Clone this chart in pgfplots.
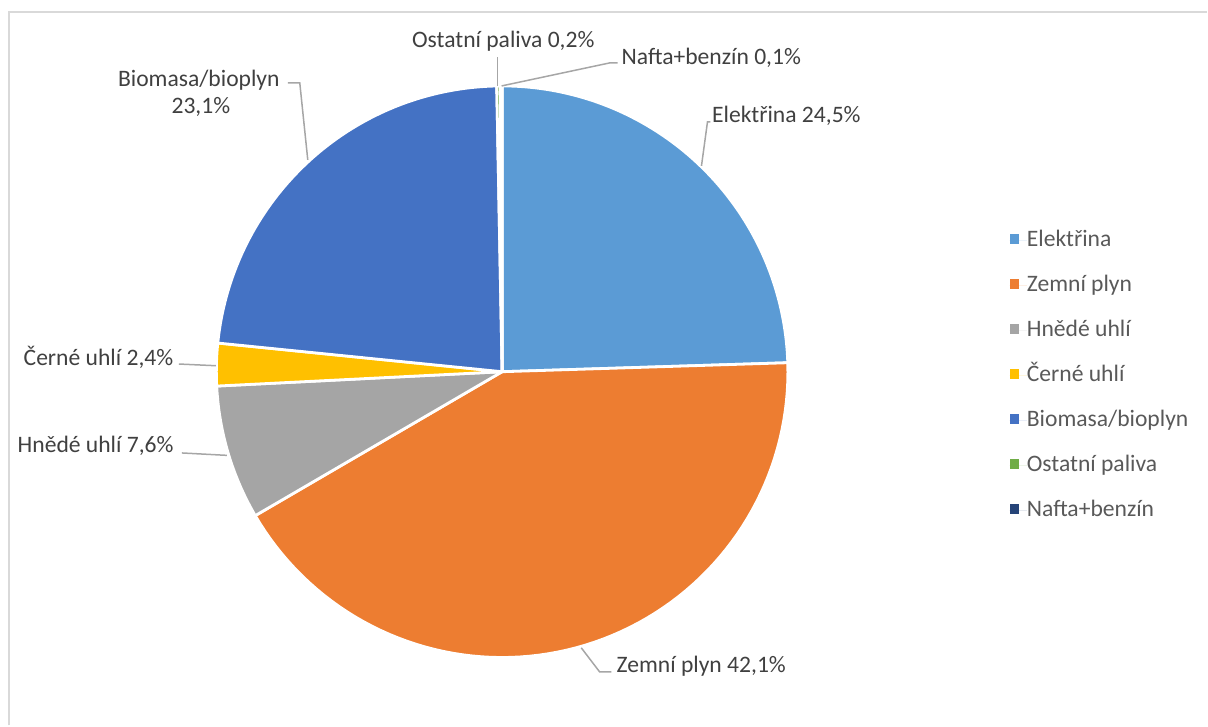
\documentclass[border=0pt]{standalone}
\usepackage{pgfplots}
\usepackage{pgfplotstable}
\pgfplotsset{compat=1.18}
\usepackage{fontspec}
\setmainfont{Carlito}
\definecolor{c0}{HTML}{5B9BD5}
\definecolor{c1}{HTML}{ED7D31}
\definecolor{c2}{HTML}{A5A5A5}
\definecolor{c3}{HTML}{FFC000}
\definecolor{c4}{HTML}{4472C4}
\definecolor{c5}{HTML}{70AD47}
\definecolor{c6}{HTML}{264478}
\definecolor{lbl}{HTML}{404040}
\definecolor{leg}{HTML}{595959}
\definecolor{lead}{HTML}{A6A6A6}
\definecolor{frame}{HTML}{D9D9D9}

% share of each fuel, % (clockwise from the top)
\pgfplotstableread{
name value
Elektrina 24.5
ZemniPlyn 42.1
HnedeUhli 7.6
CerneUhli 2.4
Biomasa 23.1
Ostatni 0.2
Nafta 0.1
}\piedata

\begin{document}
\begin{tikzpicture}
\begin{axis}[
  width=604pt, height=363pt, scale only axis,
  xmin=0, xmax=1208, ymin=0, ymax=726,
  axis lines=none, ticks=none, clip=false,
  legend style={draw=none, fill=none, at={(axis cs:1010,497.5)}, anchor=north west,
    font=\fontsize{11.8pt}{14pt}\selectfont, text=leg,
    inner sep=0pt, row sep=10.5pt, column sep=0pt,
    nodes={inner sep=0pt, text height=9pt, text depth=3pt, anchor=base west}},
  legend cell align=left,
  legend image code/.code={\fill[#1] (0pt,1.5pt) rectangle (4.8pt,6.3pt);
    \path (0pt,3pt) -- (8.6pt,3pt);},
]
\path (axis cs:0,0) rectangle (axis cs:1208,726);
\draw[frame, line width=0.9pt] (axis cs:9,0) -- (axis cs:9,714.3) -- (axis cs:1208,714.3);

\def\cumul{0}
\pgfplotsforeachungrouped \i in {0,...,6}{%
  \pgfplotstablegetelem{\i}{value}\of\piedata
  \pgfmathsetmacro\startA{90-3.6*\cumul}%
  \pgfmathsetmacro\endA{90-3.6*(\cumul+\pgfplotsretval)}%
  \pgfmathsetmacro\cumul{\cumul+\pgfplotsretval}%
  \edef\temp{\noexpand\fill[c\i, draw=white, line width=1.4pt, line join=round]
    (axis cs:502.5,354) -- plot[domain=\startA:\endA, samples=80, variable=\noexpand\t]
    ({502.5+286*cos(\noexpand\t)},{354+286*sin(\noexpand\t)}) -- cycle;}%
  \temp
}

\addlegendimage{fill=c0, draw=none}\addlegendentry{Elektřina}
\addlegendimage{fill=c1, draw=none}\addlegendentry{Zemní plyn}
\addlegendimage{fill=c2, draw=none}\addlegendentry{Hnědé uhlí}
\addlegendimage{fill=c3, draw=none}\addlegendentry{Černé uhlí}
\addlegendimage{fill=c4, draw=none}\addlegendentry{Biomasa/bioplyn}
\addlegendimage{fill=c5, draw=none}\addlegendentry{Ostatní paliva}
\addlegendimage{fill=c6, draw=none}\addlegendentry{Nafta+benzín}

% leader lines
\begin{scope}[lead, line width=0.75pt]
\draw (axis cs:498,640) -- (axis cs:498,669);
\draw (axis cs:502,640) -- (axis cs:610,663) -- (axis cs:618,663);
\draw (axis cs:702,560) -- (axis cs:708,604) -- (axis cs:711,604);
\draw (axis cs:308,566) -- (axis cs:300,643) -- (axis cs:288,643);
\draw (axis cs:179,361.7) -- (axis cs:216,360);
\draw (axis cs:182,272.7) -- (axis cs:227,270.3);
\draw (axis cs:581.7,77.7) -- (axis cs:600,53.7) -- (axis cs:611.7,53.7);
\end{scope}

% data labels
\begin{scope}[every node/.style={text=lbl, inner sep=0pt, font=\fontsize{11.8pt}{14pt}\selectfont}]
\node[anchor=base west] at (axis cs:412,678) {Ostatní paliva 0,2\%};
\node[anchor=base west] at (axis cs:621.7,661) {Nafta+benzín 0,1\%};
\node[anchor=base west] at (axis cs:712.3,603.7) {Elektřina 24,5\%};
\node[anchor=base] at (axis cs:199,639.3) {Biomasa/bioplyn};
\node[anchor=base] at (axis cs:201,612) {23,1\%};
\node[anchor=base west] at (axis cs:23.3,360) {Černé uhlí 2,4\%};
\node[anchor=base west] at (axis cs:17.3,273.3) {Hnědé uhlí 7,6\%};
\node[anchor=base west] at (axis cs:616.7,53.3) {Zemní plyn 42,1\%};
\end{scope}
\end{axis}
\end{tikzpicture}
\end{document}
